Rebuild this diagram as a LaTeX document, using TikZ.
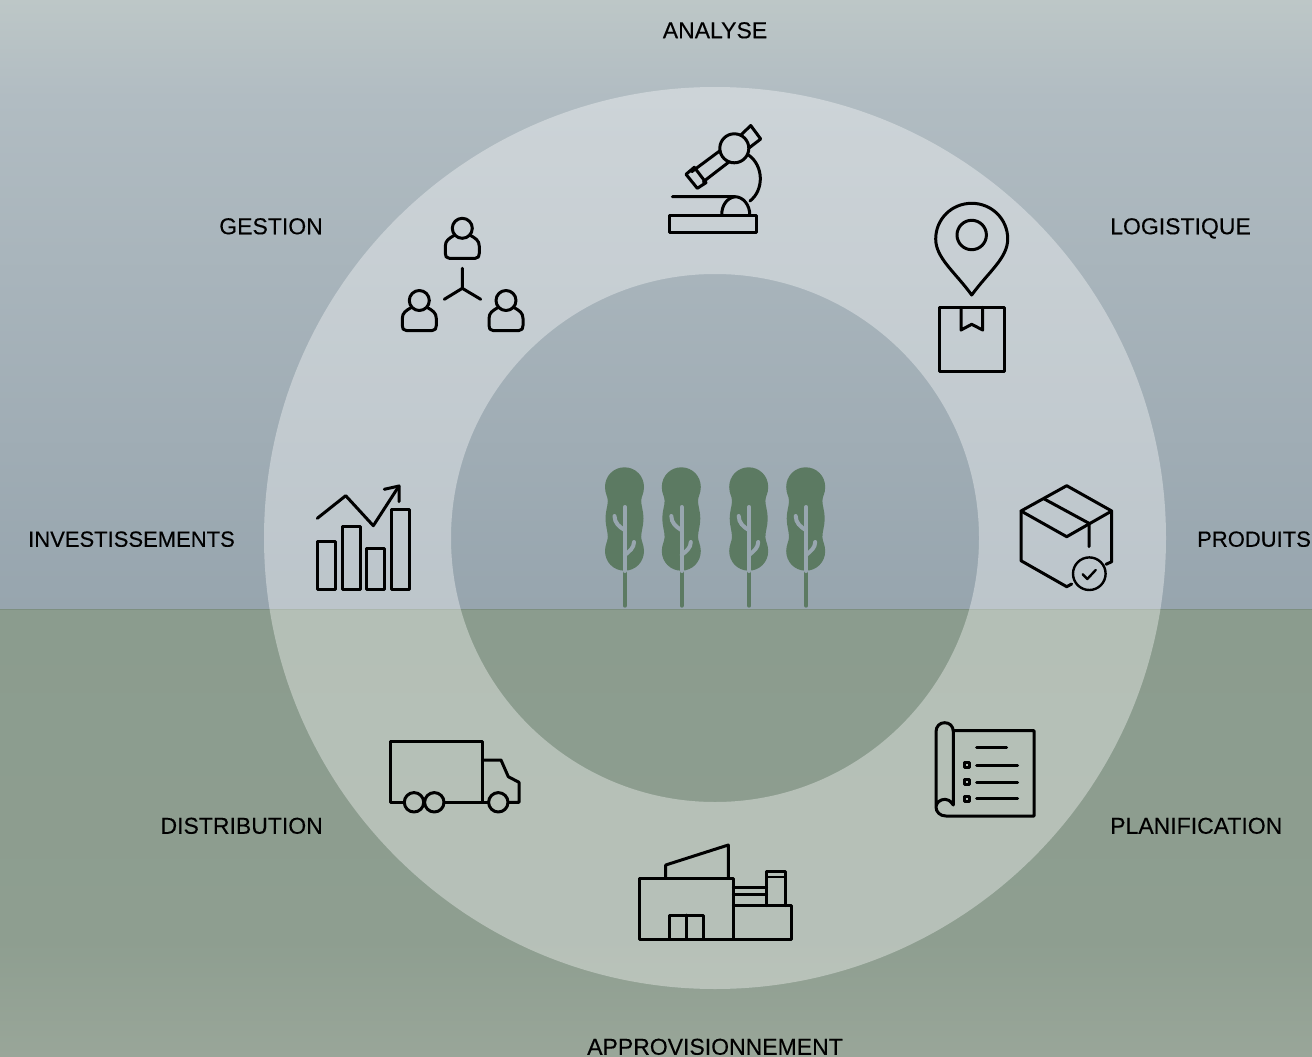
\documentclass[tikz,border=0pt]{standalone}
\usepackage{fontspec}
\setmainfont{Liberation Sans}
\newfontfamily\labfont[FakeBold=0.25]{Liberation Sans}
\definecolor{skyT}{HTML}{BDC7C7}
\definecolor{skyM}{HTML}{B1BCC2}
\definecolor{skyB}{HTML}{97A5AE}
\definecolor{groundT}{HTML}{8B9C8E}
\definecolor{groundM}{HTML}{8E9E90}
\definecolor{groundB}{HTML}{99A699}
\definecolor{groundline}{HTML}{7D8F80}
\definecolor{treegreen}{HTML}{5C7A62}
\definecolor{trunkcut}{HTML}{98A6AF}
\pgfdeclareverticalshading{skyfade}{100bp}{color(0bp)=(skyB); color(25bp)=(skyB); color(67bp)=(skyM); color(75bp)=(skyT); color(100bp)=(skyT)}
\pgfdeclareverticalshading{groundfade}{100bp}{color(0bp)=(groundB); color(25bp)=(groundB); color(38bp)=(groundM); color(75bp)=(groundT); color(100bp)=(groundT)}
\tikzset{
	lab/.style={font=\labfont\fontsize{23}{26}\selectfont,text=black,inner sep=0pt,text height=16.5pt,text depth=0pt},
	smalllab/.style={lab,font=\labfont\fontsize{22}{26}\selectfont},
	icon/.style={draw=black,line width=3pt,line join=round,line cap=round},
	thinicon/.style={icon,line width=2.4pt},
	crown/.style={fill=treegreen},
	treeline/.style={line width=4.4pt,line cap=round},
}
\begin{document}
\begin{tikzpicture}[x=1pt,y=-1pt]
	\useasboundingbox (0,0) rectangle (1312,1057);
	\shade[shading=skyfade] (0,0) rectangle (1312,609);
	\shade[shading=groundfade] (0,609) rectangle (1312,1057);
	\draw[groundline,line width=1pt] (0,609) -- (1312,609);
	\fill[white,opacity=.36,even odd rule] (715,538) circle (451) (715,538) circle (264);

	\node[lab] (lab_analyse) at (715,30) {ANALYSE};
	\node[lab,anchor=east] (lab_gestion) at (323,226) {GESTION};
	\node[lab,anchor=west] (lab_logistique) at (1110,226) {LOGISTIQUE};
	\node[smalllab,anchor=west] (lab_invest) at (28,538.5) {INVESTISSEMENTS};
	\node[smalllab,anchor=west] (lab_produits) at (1197,538.5) {PRODUITS};
	\node[lab,anchor=east] (lab_distrib) at (323,825.5) {DISTRIBUTION};
	\node[lab,anchor=west] (lab_planif) at (1110,825.5) {PLANIFICATION};
	\node[lab] (lab_appro) at (715,1046.5) {APPROVISIONNEMENT};

	% trees
	\foreach \t in {624.5,681.3,748.7,805.7}{
		\begin{scope}[xshift=\t pt]
			\fill[crown] (0,467.3) .. controls (11,467.3) and (19.5,476) .. (19.5,487)
				.. controls (19.5,494) and (16.7,496) .. (16.7,501)
				.. controls (16.7,506) and (19,511) .. (19,518.5)
				.. controls (19,526) and (16.7,531) .. (16.7,537)
				.. controls (16.7,541) and (19.5,545) .. (19.5,551)
				.. controls (19.5,562) and (11,570.7) .. (0,570.7)
				.. controls (-11,570.7) and (-19.5,562) .. (-19.5,551)
				.. controls (-19.5,545) and (-16.7,541) .. (-16.7,537)
				.. controls (-16.7,531) and (-19,526) .. (-19,518.5)
				.. controls (-19,511) and (-16.7,506) .. (-16.7,501)
				.. controls (-16.7,496) and (-19.5,494) .. (-19.5,487)
				.. controls (-19.5,476) and (-11,467.3) .. (0,467.3) -- cycle;
			\draw[treeline,treegreen] (0.4,572) -- (0.4,605.5);
			\draw[trunkcut,line width=4pt,line cap=round] (0.4,507) -- (0.4,571);
			\draw[trunkcut,line width=4pt,line cap=round] (-10,516) .. controls (-10,523) and (-5,527) .. (0,530);
			\draw[trunkcut,line width=4pt,line cap=round] (9.5,542) .. controls (9.5,548) and (5,551) .. (0.4,555);
		\end{scope}
	}

	% analyse
	\draw[icon] (734.3,148.3) circle (14.5);
	\draw[icon] (741,135) -- (750.7,125.5) -- (760.7,139) -- (749,148);
	\draw[icon] (720,150.7) -- (691.7,171.7);
	\draw[icon] (729.3,161.7) -- (703.3,181.7);
	\draw[icon] (686,174.3) -- (694.3,167.3) -- (706,182.7) -- (697.3,188.3) -- cycle;
	\draw[icon] (748.5,155) .. controls (764,166) and (764,190) .. (750,201);
	\draw[icon] (672.3,196.7) -- (735,196.7) .. controls (743,196.7) and (750,205) .. (749.7,215);
	\draw[icon] (721.7,215) .. controls (721.7,205) and (727,198) .. (735,196.7);
	\draw[icon] (669,215) rectangle (756.7,232.7);

	% gestion
	\foreach \px/\py in {462.3/228.3,419.3/300.5,506/300.5}{
		\draw[icon] (\px,\py) circle (10);
		\draw[icon] (\px-8,\py+7) .. controls (\px-13,\py+10) and (\px-17,\py+12) .. (\px-17,\py+18)
			-- (\px-17,\py+25) .. controls (\px-17,\py+28) and (\px-16,\py+30) .. (\px-13,\py+30)
			-- (\px+13,\py+30) .. controls (\px+16,\py+30) and (\px+17,\py+28) .. (\px+17,\py+25)
			-- (\px+17,\py+18) .. controls (\px+17,\py+12) and (\px+13,\py+10) .. (\px+8,\py+7);
	}
	\draw[icon] (462.3,268.3) -- (462.3,288.3) -- (444.3,299.3);
	\draw[icon] (462.3,288.3) -- (480.7,299.3);

	% logistique
	\draw[icon] (971.7,295) .. controls (955,272) and (935.7,258) .. (935.7,239)
		.. controls (935.7,219) and (951.7,203.3) .. (971.7,203.3)
		.. controls (991.7,203.3) and (1007.7,219) .. (1007.7,239)
		.. controls (1007.7,258) and (988.4,272) .. (971.7,295) -- cycle;
	\draw[icon] (971.7,235) circle (14.7);
	\draw[icon] (939.3,307.3) rectangle (1004.7,371);
	\draw[icon] (961,307.3) -- (961,330) -- (971.7,324.3) -- (982.7,330) -- (982.7,307.3);

	% produits
	\draw[icon] (1071.7,584) -- (1066.7,586.7) -- (1021,560.7) -- (1021,511) -- (1066.7,485.7) -- (1111.7,511) -- (1111.7,561.7) -- (1106,564.3);
	\draw[icon] (1021,511) -- (1066.7,536.7) -- (1111.7,511);
	\draw[icon] (1044.3,499) -- (1089,523.3) -- (1089,546.7);
	\draw[thinicon] (1089.3,573.7) circle (16.3);
	\draw[thinicon] (1082.7,574.3) -- (1087.3,579) -- (1095.7,570);

	% investissements
	\draw[icon] (317.3,541.7) rectangle (335,589);
	\draw[icon] (342,526.7) rectangle (360,589);
	\draw[icon] (366.7,548.7) rectangle (384.3,589);
	\draw[icon] (391.3,509) rectangle (409.3,589);
	\draw[icon] (317.3,518.3) -- (345.7,495.7) -- (373.3,525.7) -- (399,486);
	\draw[icon] (384.3,489.3) -- (399,486) -- (399,501.7);

	% distribution
	\draw[icon] (404.3,802.3) -- (390.7,802.3) -- (390.7,741.7) -- (482.3,741.7) -- (482.3,802.3);
	\draw[icon] (444,802.3) -- (488.7,802.3);
	\draw[icon] (482.3,760) -- (501,760) -- (508.3,776.7) -- (519,782.3) -- (519,802.3) -- (508.3,802.3);
	\draw[icon] (414,802.3) circle (9.7);
	\draw[icon] (434.3,802.3) circle (9.7);
	\draw[icon] (498.3,802.3) circle (9.7);

	% planification
	\draw[icon] (953.3,730.7) -- (1034,730.7) -- (1034,816) -- (946,816)
		.. controls (940,816) and (936,812) .. (936,807) -- (936,731.7)
		.. controls (936,726) and (940,722.7) .. (944.7,722.7)
		.. controls (949.5,722.7) and (953.3,726) .. (953.3,731.7) -- (953.3,805)
		.. controls (950,800) and (947,799.3) .. (945,799.3)
		.. controls (940,799.3) and (936,803) .. (936,807);
	\draw[icon] (976.7,747.3) -- (1006.7,747.3);
	\foreach \ly in {765,782,798.3}{
		\draw[icon] (976.7,\ly) -- (1017.7,\ly);
		\draw[icon,line width=3pt] (964.2,\ly-2.2) rectangle (969.2,\ly+2.8);
	}

	% approvisionnement
	\draw[icon] (639,878.3) rectangle (733.3,939);
	\draw[icon] (665.7,878.3) -- (665.7,865) -- (728.3,845) -- (728.3,878.3);
	\draw[icon] (669,939) -- (669,915) -- (703.3,915) -- (703.3,939);
	\draw[icon] (686.7,915) -- (686.7,939);
	\draw[icon] (733.3,905.7) -- (791,905.7) -- (791,939) -- (733.3,939);
	\draw[icon] (733.3,887.7) -- (766.7,887.7);
	\draw[icon] (733.3,894.3) -- (766.7,894.3);
	\draw[icon] (766.7,905.7) -- (766.7,871.7) -- (785,871.7) -- (785,905.7);
	\draw[icon,line width=2pt] (766.7,876.7) -- (785,876.7);
\end{tikzpicture}
\end{document}
